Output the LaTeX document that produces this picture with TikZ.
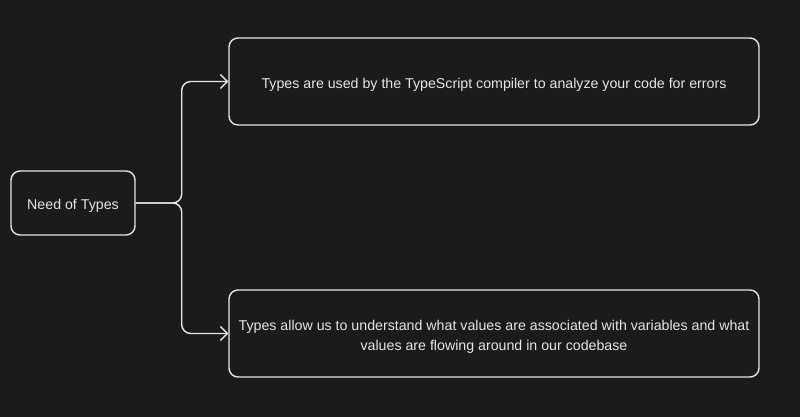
\documentclass[tikz,border=0pt]{standalone}
\usepackage{fontspec}
\setmainfont{Liberation Sans}
\usetikzlibrary{arrows.meta}
\definecolor{boardbg}{HTML}{1B1B1B}
\definecolor{inkwhite}{HTML}{E6E6E6}

\begin{document}
\begin{tikzpicture}[x=0.5pt,y=-0.5pt,
  card/.style={draw=inkwhite, line width=0.7pt, rounded corners=4.5pt, text=inkwhite, font=\fontsize{7.1}{10}\selectfont, align=center, inner sep=0pt, text height=7pt, text depth=0pt},
  link/.style={draw=inkwhite, line width=0.7pt, rounded corners=4.5pt, -{Straight Barb[length=3.5pt,width=7pt]}}]
% Draw the board (background)
\fill[boardbg] (0,0) rectangle (800,417);

% Root card
\node[card, minimum width=62pt, minimum height=32pt] (need) at (73,203) {Need of Types};

% Reason cards on the right
\node[card, minimum width=265pt, minimum height=43.5pt] (compiler) at (494,81.5) {Types are used by the TypeScript compiler to analyze your code for errors};
\node[card, minimum width=265pt, minimum height=43.5pt, text height=17pt] (values) at (494,333.5) {Types allow us to understand what values are associated with variables and what\\values are flowing around in our codebase};

% Branches from root card
\draw[link] (need.east) -- ++(46,0) |- (compiler.west);
\draw[link] (need.east) -- ++(46,0) |- (values.west);
\end{tikzpicture}
\end{document}
